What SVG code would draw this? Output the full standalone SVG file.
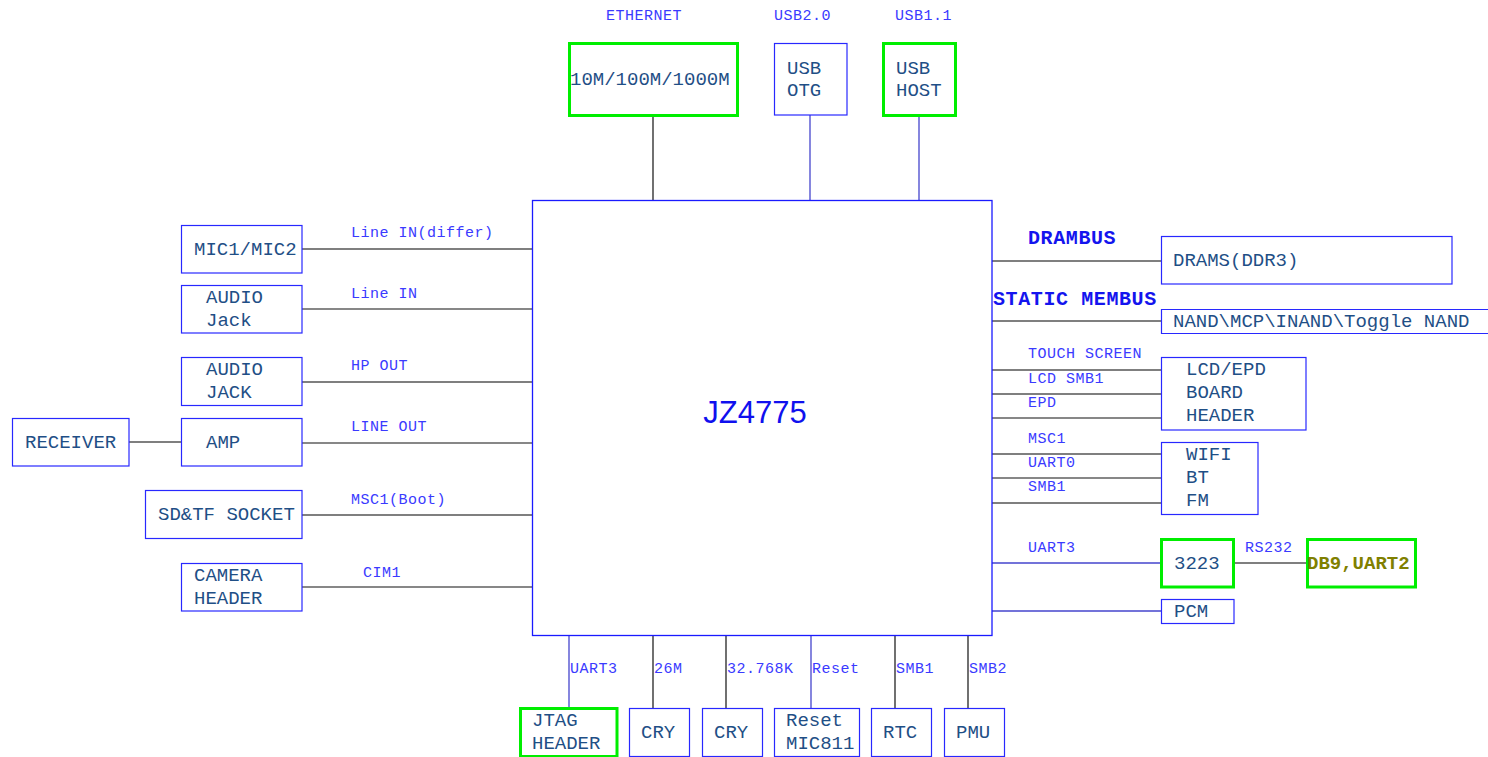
<svg xmlns="http://www.w3.org/2000/svg" width="1488" height="757" viewBox="0 0 1488 757">
<style>
.bx{fill:#fff;stroke:#2828ff;stroke-width:1.2}
.gb{fill:#fff;stroke:#00ee00;stroke-width:3}
.nt{font-family:"Liberation Mono","DejaVu Sans Mono",monospace;font-size:19px;fill:#1f4f86}
.lb{font-family:"Liberation Mono","DejaVu Sans Mono",monospace;font-size:15px;letter-spacing:0.5px;fill:#3a3aff}
.bd{font-family:"Liberation Mono","DejaVu Sans Mono",monospace;font-size:20px;font-weight:bold;letter-spacing:0.6px;fill:#1414ee}
.g{stroke:#555;stroke-width:1.3;fill:none}
.b{stroke:#4444cc;stroke-width:1.3;fill:none}
.k{stroke:#111;stroke-width:1.2;fill:none}
</style>
<rect width="1488" height="757" fill="#fff"/>
<g id="connectors">
<line class="k" x1="653" y1="116" x2="653" y2="200"/>
<line class="b" x1="810" y1="115" x2="810" y2="200"/>
<line class="b" x1="919" y1="116" x2="919" y2="200"/>
<line class="g" x1="302" y1="249" x2="532" y2="249"/>
<line class="k" x1="302" y1="309" x2="532" y2="309"/>
<line class="g" x1="302" y1="382" x2="532" y2="382"/>
<line class="g" x1="129" y1="442" x2="181" y2="442"/>
<line class="k" x1="302" y1="443" x2="532" y2="443"/>
<line class="g" x1="302" y1="515" x2="532" y2="515"/>
<line class="k" x1="302" y1="587" x2="532" y2="587"/>
<line class="g" x1="992" y1="261" x2="1161" y2="261"/>
<line class="g" x1="992" y1="321" x2="1161" y2="321"/>
<line class="g" x1="992" y1="370" x2="1161" y2="370"/>
<line class="g" x1="992" y1="394" x2="1161" y2="394"/>
<line class="k" x1="992" y1="418" x2="1161" y2="418"/>
<line class="g" x1="992" y1="454" x2="1161" y2="454"/>
<line class="k" x1="992" y1="478" x2="1161" y2="478"/>
<line class="g" x1="992" y1="503" x2="1161" y2="503"/>
<line class="b" x1="992" y1="563" x2="1161" y2="563"/>
<line class="g" x1="1234" y1="563" x2="1307" y2="563"/>
<line class="b" x1="992" y1="611" x2="1161" y2="611"/>
<line class="b" x1="569" y1="635" x2="569" y2="708"/>
<line class="k" x1="653" y1="635" x2="653" y2="708"/>
<line class="k" x1="726" y1="635" x2="726" y2="708"/>
<line class="b" x1="811" y1="635" x2="811" y2="708"/>
<line class="k" x1="895" y1="635" x2="895" y2="708"/>
<line class="k" x1="968" y1="635" x2="968" y2="708"/>
</g>
<g id="labels">
<text class="lb" x="606" y="20">ETHERNET</text>
<text class="lb" x="774" y="20">USB2.0</text>
<text class="lb" x="895" y="20">USB1.1</text>
<text class="lb" x="351" y="237">Line IN(differ)</text>
<text class="lb" x="351" y="298">Line IN</text>
<text class="lb" x="351" y="370">HP OUT</text>
<text class="lb" x="351" y="431">LINE OUT</text>
<text class="lb" x="351" y="504">MSC1(Boot)</text>
<text class="lb" x="363" y="577">CIM1</text>
<text class="bd" x="1028" y="244">DRAMBUS</text>
<text class="bd" x="993" y="305">STATIC MEMBUS</text>
<text class="lb" x="1028" y="358">TOUCH SCREEN</text>
<text class="lb" x="1028" y="383">LCD SMB1</text>
<text class="lb" x="1028" y="407">EPD</text>
<text class="lb" x="1028" y="443">MSC1</text>
<text class="lb" x="1028" y="467">UART0</text>
<text class="lb" x="1028" y="491">SMB1</text>
<text class="lb" x="1028" y="552">UART3</text>
<text class="lb" x="1245" y="552">RS232</text>
<text class="lb" x="570" y="673">UART3</text>
<text class="lb" x="654" y="673">26M</text>
<text class="lb" x="727" y="673">32.768K</text>
<text class="lb" x="812" y="673">Reset</text>
<text class="lb" x="896" y="673">SMB1</text>
<text class="lb" x="969" y="673">SMB2</text>
</g>
<g id="chip">
<rect x="532.5" y="200.5" width="459.5" height="435" fill="#fff" stroke="#1a1aff" stroke-width="1.3"/>
<text x="755" y="423" text-anchor="middle" font-family="Liberation Sans, Arial, sans-serif" font-size="31" fill="#1010ee">JZ4775</text>
</g>
<g id="ethernet"><rect class="gb" x="569.5" y="43.5" width="168" height="72"/><text class="nt" x="570" y="85">10M/100M/1000M</text></g>
<g id="usb-otg"><rect class="bx" x="774.5" y="43.5" width="72.5" height="71.5"/><text class="nt" x="787" y="73.5">USB</text><text class="nt" x="787" y="95.5">OTG</text></g>
<g id="usb-host"><rect class="gb" x="883.5" y="43.5" width="72" height="72"/><text class="nt" x="896" y="73.5">USB</text><text class="nt" x="896" y="95.5">HOST</text></g>
<g id="mic"><rect class="bx" x="181.5" y="225.5" width="120.5" height="47.5"/><text class="nt" x="194" y="254.5">MIC1/MIC2</text></g>
<g id="audio-jack-in"><rect class="bx" x="181.5" y="285.5" width="120.5" height="47.5"/><text class="nt" x="206" y="302.5">AUDIO</text><text class="nt" x="206" y="325.5">Jack</text></g>
<g id="audio-jack-out"><rect class="bx" x="181.5" y="357.5" width="120.5" height="48"/><text class="nt" x="206" y="374.5">AUDIO</text><text class="nt" x="206" y="397.5">JACK</text></g>
<g id="receiver"><rect class="bx" x="12.5" y="418.5" width="116.5" height="47.5"/><text class="nt" x="25" y="447.5">RECEIVER</text></g>
<g id="amp"><rect class="bx" x="181.5" y="418.5" width="120.5" height="47.5"/><text class="nt" x="206" y="447.5">AMP</text></g>
<g id="sd-socket"><rect class="bx" x="145.5" y="490.5" width="156.5" height="48"/><text class="nt" x="158" y="519.5">SD&amp;TF SOCKET</text></g>
<g id="camera"><rect class="bx" x="181.5" y="563.5" width="120.5" height="47.5"/><text class="nt" x="194" y="580.5">CAMERA</text><text class="nt" x="194" y="603.5">HEADER</text></g>
<g id="drams"><rect class="bx" x="1161.5" y="236.5" width="290.5" height="47.5"/><text class="nt" x="1173" y="265.5">DRAMS(DDR3)</text></g>
<g id="nand"><path d="M1490 309.5 H1161.5 V333.5 H1490" class="bx"/><text class="nt" x="1173" y="327">NAND\MCP\INAND\Toggle NAND</text></g>
<g id="lcd"><rect class="bx" x="1161.5" y="357.5" width="144.5" height="72.5"/><text class="nt" x="1186" y="374.5">LCD/EPD</text><text class="nt" x="1186" y="397.5">BOARD</text><text class="nt" x="1186" y="420.5">HEADER</text></g>
<g id="wifi"><rect class="bx" x="1161.5" y="442.5" width="96.5" height="72"/><text class="nt" x="1186" y="459.5">WIFI</text><text class="nt" x="1186" y="482.5">BT</text><text class="nt" x="1186" y="505.5">FM</text></g>
<g id="n3223"><rect class="gb" x="1161.5" y="539.5" width="72" height="47.5"/><text class="nt" x="1174" y="568.5">3223</text></g>
<g id="db9"><rect class="gb" x="1307.5" y="539.5" width="108" height="47.5"/><text class="nt" x="1307" y="568.5" font-weight="bold" style="fill:#808000">DB9,UART2</text></g>
<g id="pcm"><rect class="bx" x="1161.5" y="599.5" width="72.5" height="24"/><text class="nt" x="1174" y="617">PCM</text></g>
<g id="jtag"><rect class="gb" x="520.5" y="708.5" width="96.5" height="48"/><text class="nt" x="532" y="725.5">JTAG</text><text class="nt" x="532" y="748.5">HEADER</text></g>
<g id="cry1"><rect class="bx" x="629.5" y="708.5" width="60" height="48"/><text class="nt" x="641" y="737.5">CRY</text></g>
<g id="cry2"><rect class="bx" x="702.5" y="708.5" width="60" height="48"/><text class="nt" x="714" y="737.5">CRY</text></g>
<g id="reset"><rect class="bx" x="774.5" y="708.5" width="85" height="48"/><text class="nt" x="786" y="725.5">Reset</text><text class="nt" x="786" y="748.5">MIC811</text></g>
<g id="rtc"><rect class="bx" x="871.5" y="708.5" width="60" height="48"/><text class="nt" x="883" y="737.5">RTC</text></g>
<g id="pmu"><rect class="bx" x="944.5" y="708.5" width="60" height="48"/><text class="nt" x="956" y="737.5">PMU</text></g>
</svg>
